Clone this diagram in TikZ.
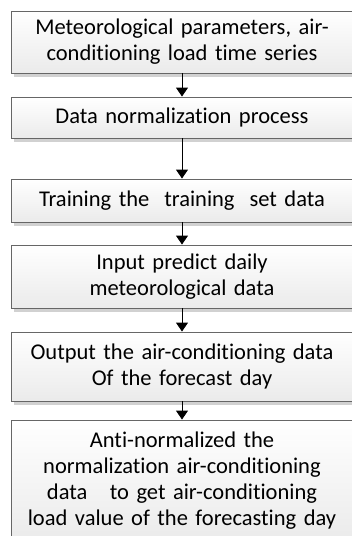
\documentclass[tikz,border=0pt]{standalone}
\usepackage{fontspec}
\setmainfont{Carlito}[Ligatures={NoCommon}]
\usetikzlibrary{arrows.meta,shadows}
\tikzset{
  stepbox/.style={draw=black!60, line width=0.9pt, top color=white, bottom color=black!8,
    minimum width=342pt, text width=336pt, align=center, inner sep=0pt,
    font=\fontsize{22.5pt}{26pt}\selectfont,
    drop shadow={shadow xshift=3pt, shadow yshift=-4pt, fill=black!18, opacity=1}},
}
\begin{document}
\begin{tikzpicture}[x=1pt, y=1pt, >={Triangle[length=9pt,width=12pt]}, line width=0.9pt]
            \useasboundingbox (0,0) rectangle (352,-536);
            \node[stepbox, minimum height=62pt] (Met) at (182,-42) {Meteorological parameters, air-\\conditioning load time series};
            \node[stepbox, minimum height=41pt] (Norm) at (182,-117.5) {Data normalization process};
            \node[stepbox, minimum height=43pt] (Train) at (182,-200.5) {Training the\ \ training\ \ set data};
            \node[stepbox, minimum height=63pt] (In) at (182,-276.5) {Input predict daily\\meteorological data};
            \node[stepbox, minimum height=69pt] (Out) at (182,-366.5) {Output the air-conditioning data\\Of the forecast day};
            \node[stepbox, minimum height=122pt] (Anti) at (182,-481) {Anti-normalized the\\normalization air-conditioning\\data\ \ \ to get air-conditioning\\load value of the forecasting day};
            \draw[->] (Met) -- (Norm);
            \draw[->] (Norm) -- (Train);
            \draw[->] (Train) -- (In);
            \draw[->] (In) -- (Out);
            \draw[->] (Out) -- (Anti);
        \end{tikzpicture}
\end{document}
